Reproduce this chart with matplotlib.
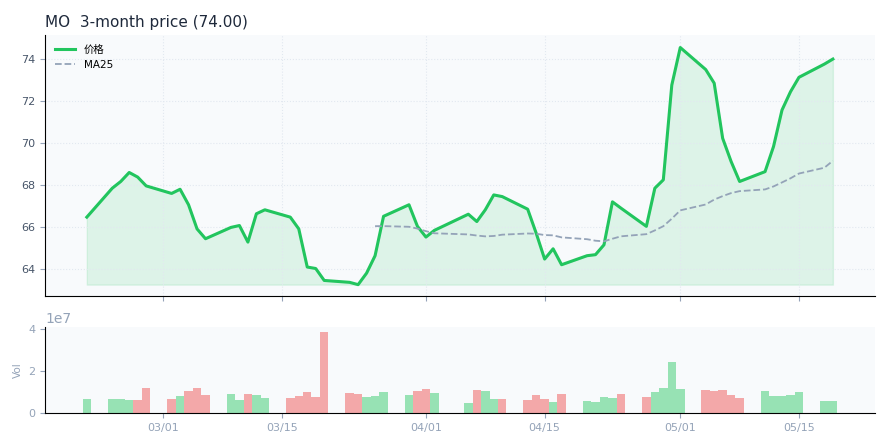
import numpy as np
import pandas as pd
import matplotlib
matplotlib.use("Agg")
import matplotlib.pyplot as plt
import matplotlib.dates as mdates

plt.rcParams['font.family'] = ['DejaVu Sans', 'Noto Sans CJK SC']

dates = pd.bdate_range("2026-02-20", "2026-05-19")
dates = dates[dates != pd.Timestamp("2026-04-03")]

close = [66.46,
         67.84, 68.16, 68.59, 68.37, 67.95,
         67.59, 67.79, 67.05, 65.90, 65.43,
         65.97, 66.06, 65.27, 66.62, 66.81,
         66.46, 65.90, 64.08, 64.01, 63.44,
         63.35, 63.24, 63.79, 64.62, 66.50,
         67.05, 66.02, 65.51, 65.83,
         66.60, 66.25, 66.81, 67.52, 67.44,
         66.84, 65.70, 64.46, 64.95, 64.19,
         64.62, 64.67, 65.14, 67.19, 66.89,
         66.02, 67.84, 68.24, 72.76, 74.55,
         73.50, 72.85, 70.22, 69.11, 68.16,
         68.63, 69.83, 71.57, 72.44, 73.13,
         73.76, 74.00]

volume = [0.67,
          0.67, 0.67, 0.63, 0.63, 1.19,
          0.67, 0.81, 1.05, 1.19, 0.86,
          0.91, 0.63, 0.91, 0.86, 0.72,
          0.72, 0.81, 1.00, 0.77, 3.86,
          0.95, 0.91, 0.77, 0.81, 1.00,
          0.86, 1.05, 1.14, 0.95,
          0.48, 1.09, 1.05, 0.67, 0.67,
          0.63, 0.86, 0.67, 0.53, 0.91,
          0.58, 0.53, 0.77, 0.72, 0.91,
          0.77, 1.00, 1.19, 2.45, 1.14,
          1.09, 1.05, 1.09, 0.86, 0.72,
          1.05, 0.81, 0.81, 0.86, 1.00,
          0.58, 0.58]

tick_dates = pd.to_datetime(["2026-03-01", "2026-03-15", "2026-04-01",
                             "2026-04-15", "2026-05-01", "2026-05-15"])

s = pd.Series(close, index=dates)
vol = np.array(volume) * 1e7
ma25 = s.rolling(25).mean()
diff = s.diff().fillna(1).values
bar_colors = np.where(diff >= 0, "#22c55e", "#ef4444")

fig, (ax, axv) = plt.subplots(2, 1, figsize=(8.85, 4.45), dpi=100, sharex=True,
                              gridspec_kw={"height_ratios": [3.03, 1], "hspace": 0.18})
fig.subplots_adjust(left=0.051, right=0.989, top=0.921, bottom=0.072)

for a in (ax, axv):
    a.set_facecolor("#f8fafc")
    for sp in ("top", "right"):
        a.spines[sp].set_visible(False)
    a.grid(True, color="#e2e8f0", linestyle=":", linewidth=0.8)
    a.tick_params(colors="#94a3b8", labelsize=8)
    a.tick_params(axis="y", labelcolor="#475569")

ax.plot(dates, s.values, color="#22c55e", lw=2.2, label="价格")
ax.fill_between(dates, s.min(), s.values, color="#22c55e", alpha=0.12)
ax.plot(dates, ma25.values, color="#94a3b8", lw=1.3, ls="--", label="MA25")
ax.set_ylim(62.71, 75.14)
ax.legend(loc="upper left", fontsize=7.5, frameon=False)
ax.set_title("MO  3-month price (74.00)", loc="left", fontsize=11, color="#1e293b")

axv.bar(dates, vol, width=1.0, color=bar_colors, alpha=0.45)
axv.set_ylim(0, 4.1e7)
axv.set_yticks([0, 2e7, 4e7])
axv.set_ylabel("Vol", fontsize=7.5, color="#94a3b8")
axv.yaxis.get_offset_text().set_color("#94a3b8")
axv.tick_params(axis="y", labelcolor="#94a3b8")
axv.grid(False)
axv.set_xticks(tick_dates)
axv.xaxis.set_major_formatter(mdates.DateFormatter("%m/%d"))
axv.set_xlim(pd.Timestamp("2026-02-15 02:00"), pd.Timestamp("2026-05-24"))

fig.savefig("out.png")
